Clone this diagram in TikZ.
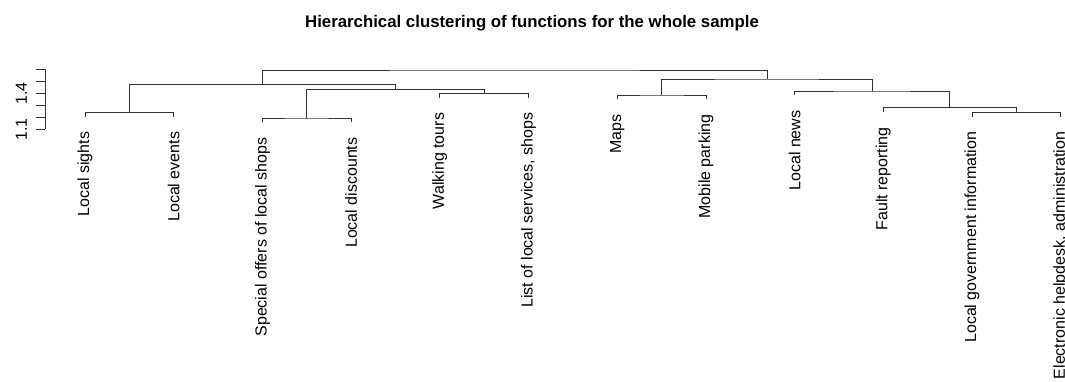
\documentclass[tikz,border=0pt]{standalone}
\usepackage{fontspec}
\setmainfont{Liberation Sans}
\usetikzlibrary{positioning,calc}

\tikzstyle{branch}=[line width=0.8pt,draw=black!80]
\tikzstyle{leaflabel}=[rotate=90,anchor=east,inner sep=0pt,font=\fontsize{16}{19}\selectfont]
\tikzstyle{ticklabel}=[rotate=90,anchor=base,inner sep=0pt,font=\fontsize{16}{19}\selectfont]
\tikzstyle{plottitle}=[anchor=base,inner sep=0pt,font=\fontsize{16.8}{20}\selectfont\bfseries]

\begin{document}
\begin{tikzpicture}[x=1pt,y=-1pt]
\useasboundingbox (0,0) rectangle (1065,381);

\node[plottitle] (title) at (532,27) {Hierarchical clustering of functions for the whole sample};

% axis
\coordinate (axtop) at (45,69.3);
\coordinate (axbot) at (45,129.3);
\draw[branch] (axtop) -- (axbot);
\draw[branch] (45,69.3) -- ++(-9,0);
\draw[branch] (45,81.3) -- ++(-9,0);
\draw[branch] (45,93.3) -- ++(-9,0);
\draw[branch] (45,105.3) -- ++(-9,0);
\draw[branch] (45,117.3) -- ++(-9,0);
\draw[branch] (45,129.3) -- ++(-9,0);
\node[ticklabel] (t14) at (27,93.3) {1.4};
\node[ticklabel] (t11) at (27,129.3) {1.1};

% leaves
\coordinate (sights) at (85,116.7);
\coordinate (events) at (173.7,116.7);
\coordinate (special) at (262.4,122.4);
\coordinate (discounts) at (351.1,122.4);
\coordinate (walking) at (439.8,97.7);
\coordinate (services) at (528.5,97.7);
\coordinate (maps) at (617.2,99.4);
\coordinate (parking) at (705.9,99.4);
\coordinate (news) at (794.6,95.4);
\coordinate (fault) at (883.3,112.1);
\coordinate (gov) at (972.0,116.7);
\coordinate (helpdesk) at (1060.7,116.7);

% merges
\coordinate (A) at (129.35,112.3);
\coordinate (B) at (306.75,118);
\coordinate (C) at (484.15,93.3);
\coordinate (D) at (395.45,89.3);
\coordinate (E) at (262.4,84.3);
\coordinate (F) at (661.55,95);
\coordinate (J) at (1016.35,112.3);
\coordinate (I) at (949.8,107.7);
\coordinate (H) at (872.2,91);
\coordinate (G) at (766.9,79);
\coordinate (R) at (514.6,70);

\draw[branch] (sights) |- (A) -| (events);
\draw[branch] (special) |- (B) -| (discounts);
\draw[branch] (walking) |- (C) -| (services);
\draw[branch] (B) |- (D) -| (C);
\draw[branch] (A) |- (E) -| (D);
\draw[branch] (maps) |- (F) -| (parking);
\draw[branch] (gov) |- (J) -| (helpdesk);
\draw[branch] (fault) |- (I) -| (J);
\draw[branch] (news) |- (H) -| (I);
\draw[branch] (F) |- (G) -| (H);
\draw[branch] (E) |- (R) -| (G);

% labels
\node[leaflabel] (sightslbl) at ([yshift=-15pt]sights) {Local sights};
\node[leaflabel] (eventslbl) at ([yshift=-15pt]events) {Local events};
\node[leaflabel] (speciallbl) at ([yshift=-15pt]special) {Special offers of local shops};
\node[leaflabel] (discountslbl) at ([yshift=-15pt]discounts) {Local discounts};
\node[leaflabel] (walkinglbl) at ([yshift=-15pt]walking) {Walking tours};
\node[leaflabel] (serviceslbl) at ([yshift=-15pt]services) {List of local services, shops};
\node[leaflabel] (mapslbl) at ([yshift=-15pt]maps) {Maps};
\node[leaflabel] (parkinglbl) at ([yshift=-15pt]parking) {Mobile parking};
\node[leaflabel] (newslbl) at ([yshift=-15pt]news) {Local news};
\node[leaflabel] (faultlbl) at ([yshift=-15pt]fault) {Fault reporting};
\node[leaflabel] (govlbl) at ([yshift=-15pt]gov) {Local government information};
\node[leaflabel] (helpdesklbl) at ([yshift=-15pt]helpdesk) {Electronic helpdesk, administration};
\end{tikzpicture}
\end{document}
